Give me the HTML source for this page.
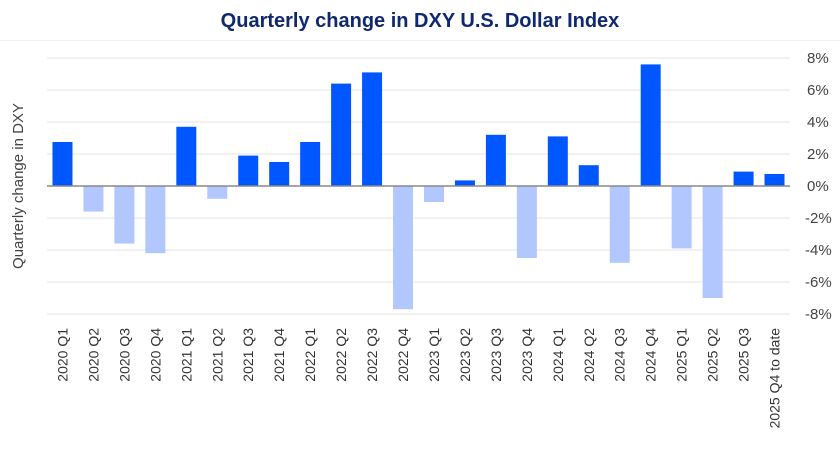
<!DOCTYPE html><html><head><style>body{margin:0;background:#fff}svg{display:block;font-family:"Liberation Sans",sans-serif}</style></head><body>
<svg width="840" height="472" xmlns="http://www.w3.org/2000/svg">
<text x="420" y="27" text-anchor="middle" font-size="20" font-weight="bold" fill="#0f2870">Quarterly change in DXY U.S. Dollar Index</text>
<line x1="0" y1="40.5" x2="840" y2="40.5" stroke="#f2f2f2"/>
<g stroke="#e6e6e6" stroke-width="1">
<line x1="47" x2="790" y1="58" y2="58"/><line x1="47" x2="790" y1="90" y2="90"/><line x1="47" x2="790" y1="122" y2="122"/><line x1="47" x2="790" y1="154" y2="154"/><line x1="47" x2="790" y1="218" y2="218"/><line x1="47" x2="790" y1="250" y2="250"/><line x1="47" x2="790" y1="282" y2="282"/><line x1="47" x2="790" y1="314" y2="314"/>
</g>
<g font-size="15" fill="#444" text-anchor="start">
<text x="807" y="63">8%</text><text x="807" y="95">6%</text><text x="807" y="127">4%</text><text x="807" y="159">2%</text><text x="807" y="191">0%</text><text x="805" y="223">-2%</text><text x="805" y="255">-4%</text><text x="805" y="287">-6%</text><text x="805" y="319">-8%</text>
</g>
<text transform="translate(23,186) rotate(-90)" text-anchor="middle" font-size="15" fill="#444">Quarterly change in DXY</text>
<g id="bars"></g>
<line x1="47" x2="790" y1="186" y2="186" stroke="#888" stroke-width="1.5"/>
<g id="labels" font-size="14" fill="#333"></g>
<script>
var v=[2.75,-1.6,-3.6,-4.2,3.7,-0.8,1.9,1.5,2.75,6.4,7.1,-7.7,-1.0,0.35,3.2,-4.5,3.1,1.3,-4.8,7.6,-3.9,-7.0,0.9,0.75];
var n=["2020 Q1","2020 Q2","2020 Q3","2020 Q4","2021 Q1","2021 Q2","2021 Q3","2021 Q4","2022 Q1","2022 Q2","2022 Q3","2022 Q4","2023 Q1","2023 Q2","2023 Q3","2023 Q4","2024 Q1","2024 Q2","2024 Q3","2024 Q4","2025 Q1","2025 Q2","2025 Q3","2025 Q4 to date"];
var ns="http://www.w3.org/2000/svg",b=document.getElementById("bars"),l=document.getElementById("labels");
var s=743/24;
for(var i=0;i<24;i++){var c=47+s*(i+0.5);var r=document.createElementNS(ns,"rect");var h=Math.abs(v[i])*16;
r.setAttribute("x",c-10);r.setAttribute("width",20);r.setAttribute("y",v[i]>0?186-h:186);r.setAttribute("height",h);r.setAttribute("fill",v[i]>0?"#0057ff":"#b3c7ff");b.appendChild(r);
var t=document.createElementNS(ns,"text");t.setAttribute("transform","translate("+(c+5)+",328) rotate(-90)");t.setAttribute("text-anchor","end");t.textContent=n[i];l.appendChild(t);}
</script>
</svg></body></html>
